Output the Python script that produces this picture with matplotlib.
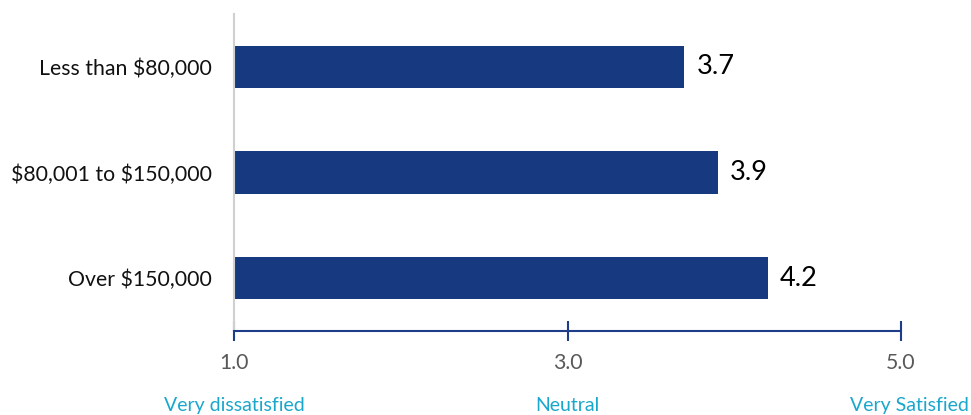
import matplotlib
matplotlib.use("Agg")
import matplotlib.pyplot as plt
from matplotlib.transforms import blended_transform_factory

plt.rcParams['font.family'] = ['Lato', 'DejaVu Sans']

categories = ["Less than \\$80,000", "\\$80,001 to \\$150,000", "Over \\$150,000"]
values = [3.7, 3.9, 4.2]
xticks = [1.0, 3.0, 5.0]
xtick_labels = ["1.0", "3.0", "5.0"]
scale_labels = ["Very dissatisfied", "Neutral", "Very Satisfied"]

bar_color = "#17397F"
fig = plt.figure(figsize=(9.71, 4.15), dpi=100)
ax = fig.add_axes([234/971, 1 - 331/415, (901-234)/971, (331-14)/415])

ypos = list(range(len(categories)))
ax.barh(ypos, [v - 1.0 for v in values], left=1.0, height=0.4, color=bar_color)
for y, v in zip(ypos, values):
    ax.text(v + 0.075, y, f"{v:.1f}", va="center", ha="left", fontsize=19.5, color="black")

ax.set_xlim(1, 5)
ax.set_ylim(2.5, -0.5)
ax.set_yticks(ypos)
ax.set_yticklabels(categories, fontsize=15.3, color="#111111")
ax.tick_params(axis="y", length=0, pad=16)
ax.set_xticks(xticks)
ax.set_xticklabels(xtick_labels, fontsize=15.3, color="#595959")
ax.tick_params(axis="x", direction="inout", length=14, width=1.5, color="#1F3C88", pad=9)

for s in ["top", "right"]:
    ax.spines[s].set_visible(False)
ax.spines["left"].set_color("#D0D0D0")
ax.spines["left"].set_linewidth(1.5)
ax.spines["bottom"].set_color("#1F3C88")
ax.spines["bottom"].set_linewidth(1.5)

trans = blended_transform_factory(ax.transData, fig.transFigure)
offsets = [0.0, 0.0, 0.05]
for x, lab, off in zip(xticks, scale_labels, offsets):
    fig.text(x + off, 1 - 405/415, lab, transform=trans, ha="center", va="center",
             fontsize=14, color="#1AA7CC")

fig.savefig("out.png", dpi=100)
